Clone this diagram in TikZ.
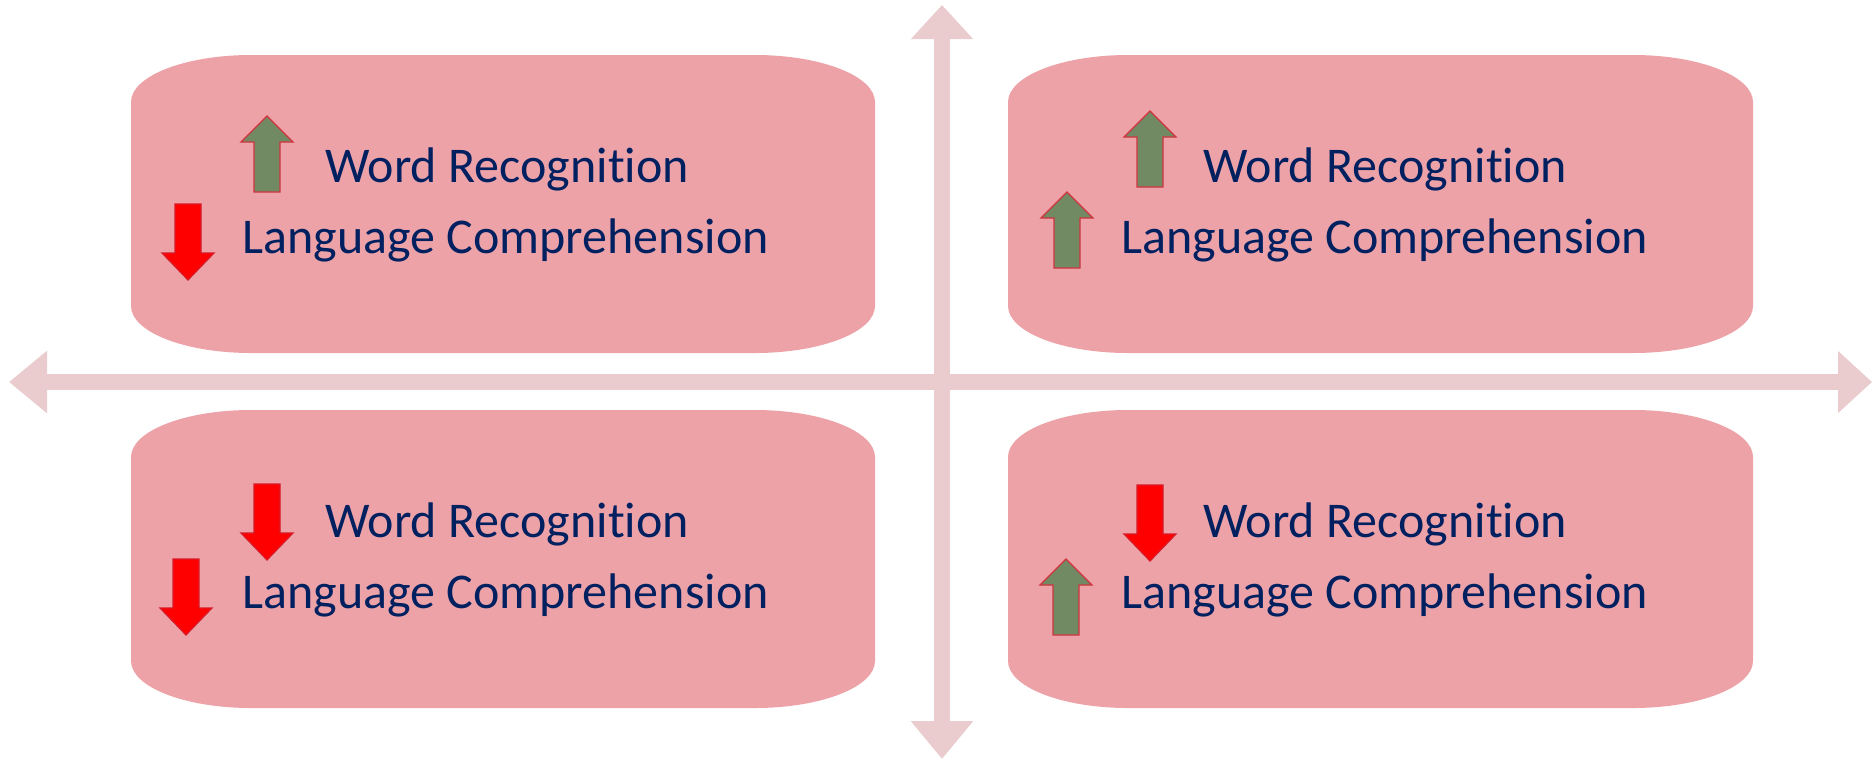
\documentclass[tikz,border=0pt]{standalone}
\usepackage{fontspec}
\setmainfont{Carlito}[Ligatures=NoCommon]
\usetikzlibrary{arrows.meta}

\definecolor{axiscol}{HTML}{EACBCE}
\definecolor{boxcol}{HTML}{EDA2A8}
\definecolor{textcol}{HTML}{002060}
\definecolor{upcol}{HTML}{728A64}
\definecolor{upedge}{HTML}{D0343F}
\definecolor{downcol}{HTML}{FF0000}
\definecolor{downedge}{HTML}{D81A28}

\tikzset{
  axisline/.style={draw=axiscol, line width=8pt,
    {Triangle[length=19pt,width=30pt]}-{Triangle[length=17pt,width=30pt]}},
  boxfill/.style={fill=boxcol},
  label/.style={anchor=base west, inner sep=0pt, text=textcol,
    font=\fontsize{25pt}{30pt}\selectfont},
  uparrow/.style={fill=upcol, draw=upedge, line width=0.6pt},
  downarrow/.style={fill=downcol, draw=downedge, line width=0.6pt},
}

% quadrant panel with elliptic corners: x1, y1, x2, y2
\newcommand\panel[4]{%
  \path[boxfill]
    (#1,{#2+47}) .. controls (#1,{#2+21}) and ({#1+54},#2) .. ({#1+120},#2)
    -- ({#3-120},#2) .. controls ({#3-54},#2) and (#3,{#2+21}) .. (#3,{#2+47})
    -- (#3,{#4-47}) .. controls (#3,{#4-21}) and ({#3-54},#4) .. ({#3-120},#4)
    -- ({#1+120},#4) .. controls ({#1+54},#4) and (#1,{#4-21}) .. (#1,{#4-47})
    -- cycle;}

% block arrow pointing up, tip at (x, y)
\newcommand\uparr[2]{%
  \path[uparrow] (#1,#2) -- ({#1+26},{#2+26}) -- ({#1+13},{#2+26})
    -- ({#1+13},{#2+76}) -- ({#1-13},{#2+76}) -- ({#1-13},{#2+26})
    -- ({#1-26},{#2+26}) -- cycle;}

% block arrow pointing down, tip at (x, y)
\newcommand\downarr[2]{%
  \path[downarrow] (#1,#2) -- ({#1+26},{#2-27}) -- ({#1+13},{#2-27})
    -- ({#1+13},{#2-76}) -- ({#1-13},{#2-76}) -- ({#1-13},{#2-27})
    -- ({#1-26},{#2-27}) -- cycle;}

\begin{document}
\begin{tikzpicture}[x=0.5pt,y=-0.5pt]
\useasboundingbox (0,0) rectangle (1872,761);

% axes
\coordinate (west)  at (9,382);
\coordinate (east)  at (1872,382);
\coordinate (north) at (942,5);
\coordinate (south) at (942,759);
\draw[axisline] (west) -- (east);
\draw[axisline] (south) -- (north);

% quadrant panels
\panel{131}{55}{875}{353}
\panel{1008}{55}{1753}{353}
\panel{131}{410}{875}{708}
\panel{1008}{410}{1753}{708}

% top left
\node[label] (tlword) at (325,182) {Word Recognition};
\node[label] (tllang) at (242,253) {Language Comprehension};
\uparr{267}{116}
\downarr{188}{280}

% top right
\node[label] (trword) at (1203,182) {Word Recognition};
\node[label] (trlang) at (1121,253) {Language Comprehension};
\uparr{1150}{111}
\uparr{1067}{192}

% bottom left
\node[label] (blword) at (325,537) {Word Recognition};
\node[label] (bllang) at (242,608) {Language Comprehension};
\downarr{267}{560}
\downarr{186}{635}

% bottom right
\node[label] (brword) at (1203,537) {Word Recognition};
\node[label] (brlang) at (1121,608) {Language Comprehension};
\downarr{1150}{561}
\uparr{1066}{559}
\end{tikzpicture}
\end{document}
